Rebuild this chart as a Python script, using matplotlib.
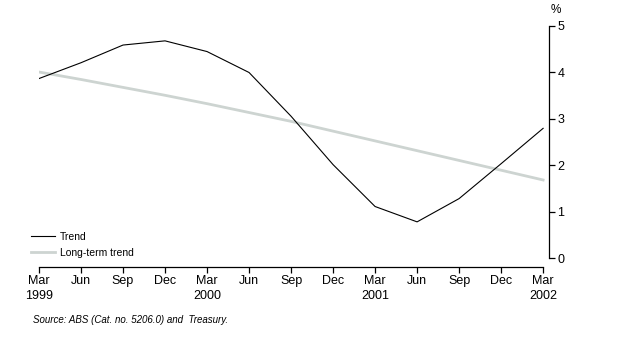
import matplotlib
matplotlib.use("Agg")
import matplotlib.pyplot as plt

# quarterly, Mar 1999 .. Mar 2002
quarters = ["Mar\n1999", "Jun", "Sep", "Dec", "Mar\n2000", "Jun", "Sep", "Dec",
            "Mar\n2001", "Jun", "Sep", "Dec", "Mar\n2002"]
trend = [3.86, 4.20, 4.58, 4.67, 4.44, 3.99, 3.05, 2.01, 1.11, 0.78, 1.28, 2.03, 2.79]
long_term = [4.00, 3.84, 3.67, 3.50, 3.32, 3.13, 2.94, 2.73, 2.52, 2.31, 2.10, 1.89, 1.68]
y_ticks = [0, 1, 2, 3, 4, 5]

plt.rcParams['font.family'] = ['Liberation Sans', 'DejaVu Sans']

W, H = 617, 342
fig = plt.figure(figsize=(W / 100, H / 100), dpi=100)
ax = fig.add_axes([39 / W, 1 - 267 / H, (549 - 39) / W, (267 - 25.5) / H])

x = list(range(len(quarters)))
l1, = ax.plot(x, trend, color="black", lw=0.8, label="Trend")
l2, = ax.plot(x, long_term, color="#cdd4d1", lw=2.0, label="Long-term trend", zorder=1)

ax.set_xlim(0, 12.14)
ax.set_ylim(-0.19, 5)

ax.spines["left"].set_visible(False)
ax.spines["top"].set_visible(False)
ax.spines["right"].set_bounds(0, 5)
ax.spines["bottom"].set_bounds(0, 12)
for s in ("right", "bottom"):
    ax.spines[s].set_linewidth(0.9)

ax.yaxis.tick_right()
ax.set_yticks(y_ticks)
ax.set_yticklabels([str(v) for v in y_ticks], fontsize=9)
ax.tick_params(axis="y", length=4, width=0.9, pad=2)

ax.set_xticks(x)
ax.set_xticklabels(quarters, fontsize=9, linespacing=1.35)
ax.tick_params(axis="x", length=4.5, width=0.9, pad=1.5)

fig.text(556 / W, 1 - 10 / H, "%", fontsize=8.5, ha="center", va="center")

fig.legend(handles=[l1, l2], loc="upper left", bbox_to_anchor=(31 / W, 1 - 232 / H),
           frameon=False, fontsize=7.5, handlelength=2.3, handletextpad=0.5,
           labelspacing=0.55, borderpad=0, borderaxespad=0)

fig.text(33 / W, 1 - 320 / H, "Source: ABS (Cat. no. 5206.0) and  Treasury.",
         fontsize=7, style="italic", ha="left", va="center")

fig.savefig("out.png", dpi=100)
